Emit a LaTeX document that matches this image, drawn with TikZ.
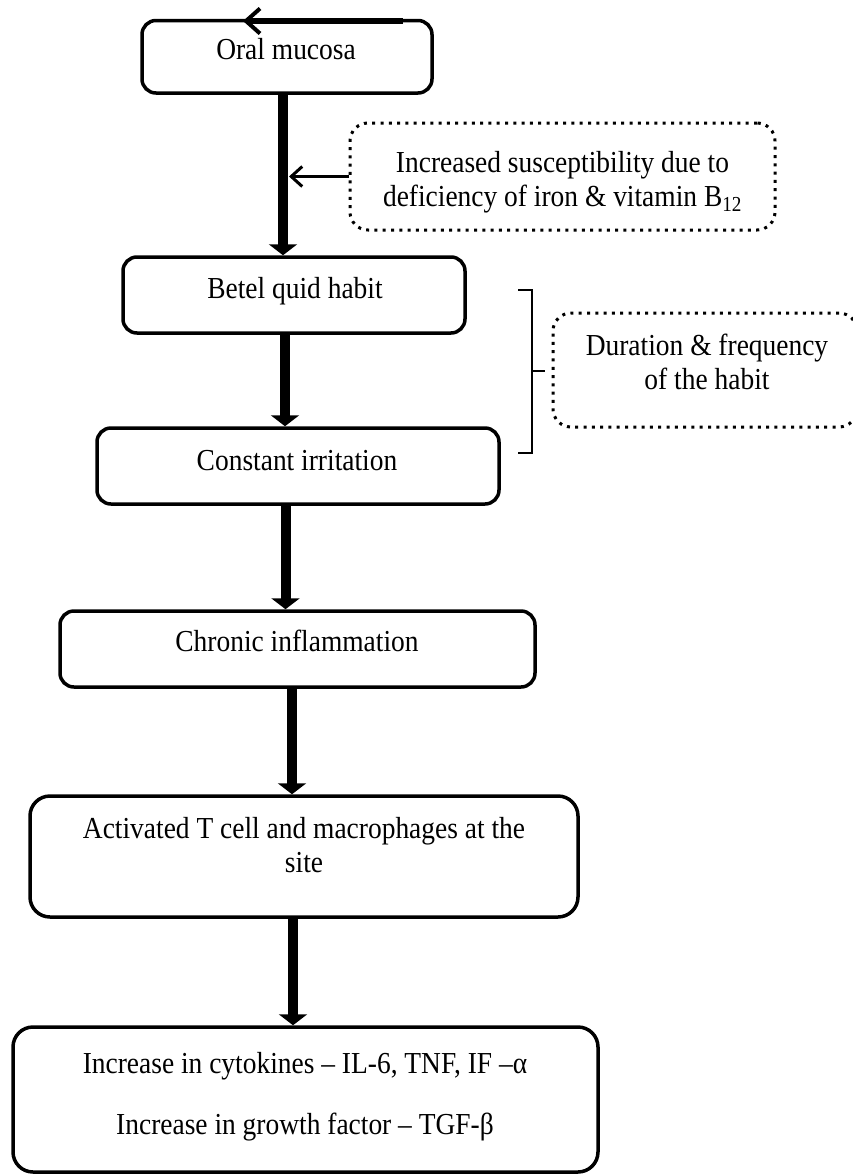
\documentclass[tikz,border=0pt]{standalone}
\usepackage{fontspec}
\setmainfont{Liberation Serif}[FakeStretch=0.9]
\usetikzlibrary{arrows.meta}
\begin{document}
\begin{tikzpicture}[x=1pt,y=-1pt,
  box/.style={draw, line width=3.5pt, rounded corners=14pt, inner sep=0pt},
  bigbox/.style={box, rounded corners=20pt},
  dotbox/.style={draw, line width=3pt, dash pattern=on 3pt off 5.3pt, rounded corners=18pt, inner sep=0pt},
  txt/.style={font=\fontsize{30.5}{34}\selectfont, anchor=base, inner sep=0pt},
  bigarrow/.style={line width=10pt, -{Triangle[width=28pt,length=11pt]}},
  thinarrow/.style={line width=3pt, -{Straight Barb[length=11pt,width=20pt,line width=3pt]}},
  toparrow/.style={line width=5.5pt, -{Straight Barb[length=14pt,width=25pt,line width=4pt]}},
  bracket/.style={line width=1.5pt}]
\useasboundingbox (0,0) rectangle (853,1176);

% boxes
\node[box, minimum width=290pt, minimum height=72.5pt] (oral) at (287,56.75) {};
\node[box, minimum width=342pt, minimum height=76pt] (betel) at (294,295) {};
\node[box, minimum width=402pt, minimum height=76pt] (const) at (298,466) {};
\node[box, minimum width=475pt, minimum height=76pt] (chronic) at (297.5,649) {};
\node[bigbox, minimum width=548pt, minimum height=121pt] (activ) at (304,856.5) {};
\node[bigbox, minimum width=585pt, minimum height=145pt] (cyto) at (305.5,1099.5) {};
\node[dotbox, minimum width=425pt, minimum height=107pt] (dot1) at (562.5,176.5) {};
\node[dotbox, minimum width=304pt, minimum height=114pt] (dot2) at (705,370) {};

% texts
\node[txt] (t1) at (286,59) {Oral mucosa};
\node[txt] (t2) at (295,298) {Betel quid habit};
\node[txt] (t3) at (297,470) {Constant irritation};
\node[txt] (t4) at (297,651) {Chronic inflammation};
\node[txt] (t5a) at (304,838) {Activated T cell and macrophages at the};
\node[txt] (t5b) at (304,872) {site};
\node[txt] (t6a) at (305,1073) {Increase in cytokines – IL-6, TNF, IF –α};
\node[txt] (t6b) at (305,1134) {Increase in growth factor – TGF-β};
\node[txt] (d1a) at (562.5,172) {Increased susceptibility due to};
\node[txt] (d1b) at (562.5,206) {deficiency of iron \& vitamin B\textsubscript{12}};
\node[txt] (d2a) at (707,355) {Duration \& frequency};
\node[txt] (d2b) at (707,389) {of the habit};

% helper coordinates
\coordinate (x1) at (283,0);
\coordinate (x2) at (285,0);
\coordinate (x3) at (285.5,0);
\coordinate (x4) at (292,0);
\coordinate (x5) at (293,0);
\coordinate (sidetip) at (289,0);
\coordinate (topR) at (403,21);
\coordinate (topL) at (243,21);
\coordinate (brA) at (518,290);
\coordinate (brB) at (532,290);
\coordinate (brC) at (532,453);
\coordinate (brD) at (518,453);
\coordinate (brM) at (532,371);
\coordinate (brT) at (545,371);

% connectors
\draw[bigarrow] (oral.south -| x1) -- (betel.north -| x1);
\draw[bigarrow] (betel.south -| x2) -- (const.north -| x2);
\draw[bigarrow] (const.south -| x3) -- (chronic.north -| x3);
\draw[bigarrow] (chronic.south -| x4) -- (activ.north -| x4);
\draw[bigarrow] (activ.south -| x5) -- (cyto.north -| x5);
\draw[thinarrow] (dot1.west) -- (dot1.west -| sidetip);
\draw[toparrow] (topR) -- (topL);
\draw[bracket] (brA) -- (brB) -- (brC) -- (brD);
\draw[bracket] (brM) -- (brT);
\end{tikzpicture}
\end{document}
